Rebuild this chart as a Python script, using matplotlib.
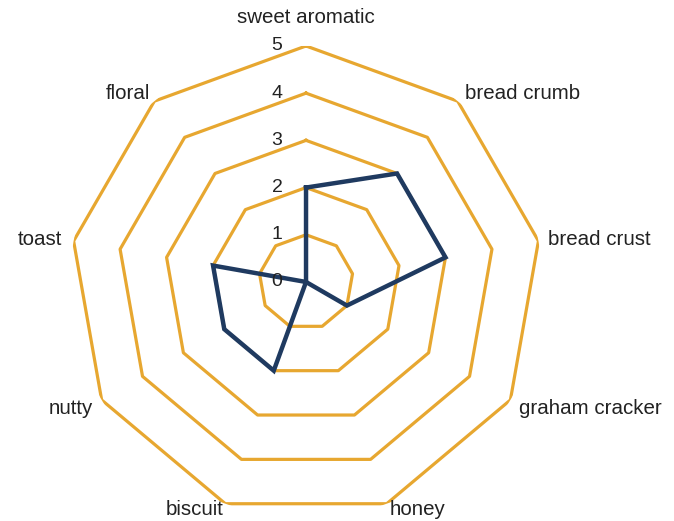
import numpy as np
import matplotlib
matplotlib.use("Agg")
import matplotlib.pyplot as plt

categories = ["sweet aromatic", "bread crumb", "bread crust", "graham cracker",
              "honey", "biscuit", "nutty", "toast", "floral"]
values = [2, 3, 3, 1, 0, 2, 2, 2, 0]
ring_levels = [1, 2, 3, 4, 5]
tick_labels = ["0", "1", "2", "3", "4", "5"]

GOLD = "#E7A730"
NAVY = "#1F3A60"
plt.rcParams['font.family'] = ['Liberation Sans', 'DejaVu Sans']

fig = plt.figure(figsize=(6.74, 5.21), dpi=100)
ax = fig.add_axes([0.1039, 0.0058, 0.7003, 0.906], projection="polar")
ax.set_theta_zero_location("N")
ax.set_theta_direction(-1)
ax.set_ylim(0, 5)
ax.axis("off")

n = len(categories)
theta = np.linspace(0, 2 * np.pi, n, endpoint=False)
theta_c = np.append(theta, theta[0])

for lv in ring_levels:
    ax.plot(theta_c, [lv] * (n + 1), color=GOLD, lw=2.3, zorder=1)

v = np.append(values, values[0])
ax.plot(theta_c, v, color=NAVY, lw=3.2, zorder=3, solid_joinstyle="miter")

# radial tick labels along the top spoke
for i, t in enumerate(tick_labels):
    ax.annotate(t, xy=(0, i), xytext=(-17, 0), textcoords="offset points",
                ha="right", va="center", fontsize=14, color="#222222", zorder=4)

# category labels
offsets = [(0, 14), (5, -1), (7, 1), (6, 1), (2, 2.5), (-1, 2.5), (-6, 1), (-8, 1), (-3, -1)]
aligns = [("center", "bottom"), ("left", "bottom"), ("left", "center"), ("left", "top"),
          ("left", "top"), ("right", "top"), ("right", "top"), ("right", "center"),
          ("right", "bottom")]
for th, lab, off, (ha, va) in zip(theta, categories, offsets, aligns):
    ax.annotate(lab, xy=(th, 5), xytext=off, textcoords="offset points",
                ha=ha, va=va, fontsize=14.8, color="#222222", annotation_clip=False)

fig.savefig("out.png", dpi=100)
